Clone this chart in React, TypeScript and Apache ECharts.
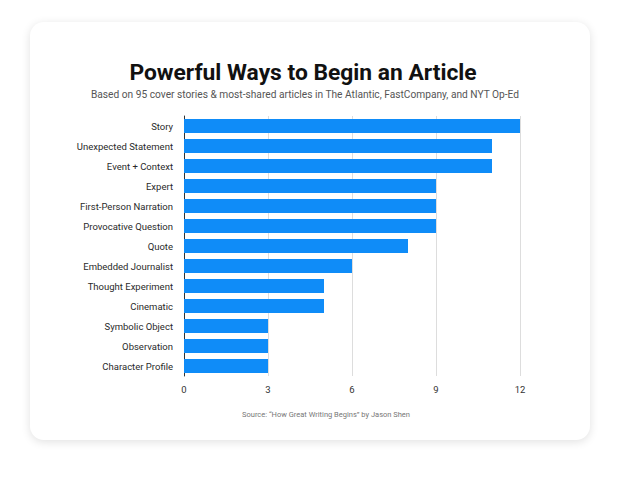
import React, { useEffect, useRef } from "react";
import * as echarts from "echarts";

const categories = [
  "Story",
  "Unexpected Statement",
  "Event + Context",
  "Expert",
  "First-Person Narration",
  "Provocative Question",
  "Quote",
  "Embedded Journalist",
  "Thought Experiment",
  "Cinematic",
  "Symbolic Object",
  "Observation",
  "Character Profile",
];
const values = [12, 11, 11, 9, 9, 9, 8, 6, 5, 5, 3, 3, 3];

const titleText = "Powerful Ways to Begin an Article";
const subtitleText =
  "Based on 95 cover stories & most-shared articles in The Atlantic, FastCompany, and NYT Op-Ed";
const sourceText = "Source: \u201cHow Great Writing Begins\u201d by Jason Shen";

export default function App() {
  const ref = useRef<HTMLDivElement>(null);
  useEffect(() => {
    document.body.style.margin = "0";
    document.body.style.background = "#ffffff";
    const chart = echarts.init(ref.current!, null, { renderer: "svg" });
    chart.setOption({
      animation: false,
      textStyle: { fontFamily: "Roboto" },
      graphic: [
        {
          type: "text",
          x: 303,
          y: 72,
          style: {
            text: titleText,
            align: "center",
            verticalAlign: "middle",
            fontSize: 22.8,
            fontWeight: "bold",
            fill: "#111",
            fontFamily: "Roboto",
          },
        },
        {
          type: "text",
          x: 305,
          y: 94,
          style: {
            text: subtitleText,
            align: "center",
            verticalAlign: "middle",
            fontSize: 10.2,
            fill: "#555",
            fontFamily: "Roboto",
          },
        },
        {
          type: "text",
          x: 326,
          y: 414,
          style: {
            text: sourceText,
            align: "center",
            verticalAlign: "middle",
            fontSize: 7.5,
            fill: "#777",
            fontFamily: "Roboto",
          },
        },
      ],
      grid: { left: 184, right: 100, top: 116, height: 260, containLabel: false },
      xAxis: {
        type: "value",
        min: 0,
        max: 12,
        interval: 3,
        axisLine: { show: false },
        axisTick: { show: false },
        splitLine: { lineStyle: { color: "#dddddd", width: 1 } },
        axisLabel: { color: "#333", fontSize: 9.5, margin: 8, fontFamily: "Roboto" },
      },
      yAxis: {
        type: "category",
        data: categories,
        inverse: true,
        axisLine: { show: true, lineStyle: { color: "#333", width: 1 } },
        axisTick: { show: false },
        axisLabel: { color: "#2a2a2a", fontSize: 9.5, margin: 11, fontFamily: "Roboto" },
      },
      series: [
        {
          type: "bar",
          data: values,
          barWidth: 14,
          itemStyle: { color: "#0f8cf8" },
        },
      ],
    });
    return () => chart.dispose();
  }, []);
  return (
    <div style={{ position: "relative", width: 620, height: 479, background: "#fff" }}>
      <div
        style={{
          position: "absolute",
          left: 30,
          top: 22,
          width: 560,
          height: 418,
          borderRadius: 14,
          background: "#fff",
          boxShadow: "0 2px 10px rgba(0,0,0,0.12)",
        }}
      />
      <div ref={ref} style={{ position: "absolute", left: 0, top: 0, width: 620, height: 479 }} />
    </div>
  );
}
